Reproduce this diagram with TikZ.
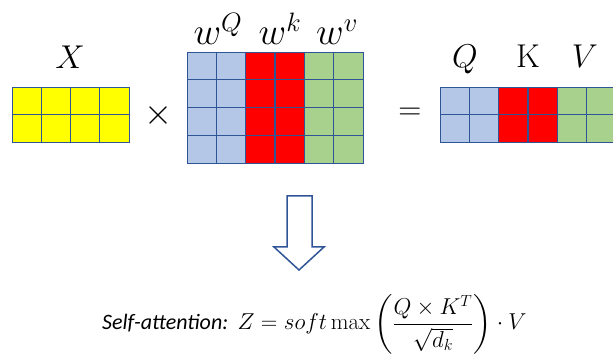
\RequirePackage{fix-cm}
\documentclass[tikz,border=0pt]{standalone}
\usepackage{fontspec}
\usepackage{amsmath}
\newfontfamily\carlito{Carlito}
\definecolor{gridblue}{HTML}{2F5597}
\definecolor{cellblue}{HTML}{B4C7E7}
\definecolor{cellgreen}{HTML}{A9D18E}
\definecolor{cellred}{HTML}{FF0000}
\definecolor{cellyellow}{HTML}{FFFF00}
\tikzset{
  gridline/.style={draw=gridblue, line width=1.4pt},
  bigmath/.style={inner sep=0pt, font=\fontsize{33}{38}\selectfont},
  wmath/.style={inner sep=0pt, font=\fontsize{38}{44}\selectfont},
  opsign/.style={inner sep=0pt, font=\fontsize{36}{40}\selectfont},
  blockarrow/.style={draw=gridblue, line width=1.5pt, line join=miter},
}
\begin{document}
\begin{tikzpicture}[x=1pt,y=-1pt]
\useasboundingbox (0,0) rectangle (613,355);
\clip (0,0) rectangle (613,355);
% X matrix
\fill[cellyellow] (12,87) rectangle (129,142);
\foreach \i in {1,2,3} \draw[gridline] ({12+\i*29.25},87) -- ({12+\i*29.25},142);
\draw[gridline] (12,114.5) -- (129,114.5);
\node[draw=gridblue, line width=1.4pt, minimum width=117pt, minimum height=55pt, inner sep=0pt, anchor=north west] (X) at (12,87) {};
\node[bigmath, anchor=base] (Xl) at (70,69) {$X$};
\node[opsign] (times) at (158,116) {$\times$};
% W matrix
\fill[cellblue] (187,52) rectangle (245.67,163);
\fill[cellred] (245.67,52) rectangle (304.33,163);
\fill[cellgreen] (304.33,52) rectangle (363,163);
\foreach \i in {1,...,5} \draw[gridline] ({187+\i*29.333},52) -- ({187+\i*29.333},163);
\foreach \j in {1,2,3} \draw[gridline] (187,{52+\j*27.75}) -- (363,{52+\j*27.75});
\node[draw=gridblue, line width=1.4pt, minimum width=176pt, minimum height=111pt, inner sep=0pt, anchor=north west] (W) at (187,52) {};
\node[wmath, anchor=base] (wq) at (218,45) {$w^{Q}$};
\node[wmath, anchor=base] (wk) at (280,45) {$w^{k}$};
\node[wmath, anchor=base] (wv) at (337,45) {$w^{v}$};
\node[opsign, font=\fontsize{32}{36}\selectfont] (eq) at (410,114) {$=$};
% Result matrix
\fill[cellblue] (440,87) rectangle (498.67,142);
\fill[cellred] (498.67,87) rectangle (557.33,142);
\fill[cellgreen] (557.33,87) rectangle (616,142);
\foreach \i in {1,...,5} \draw[gridline] ({440+\i*29.333},87) -- ({440+\i*29.333},142);
\draw[gridline] (440,114.5) -- (616,114.5);
\node[draw=gridblue, line width=1.4pt, minimum width=176pt, minimum height=55pt, inner sep=0pt, anchor=north west] (R) at (440,87) {};
\node[bigmath, anchor=base] (Ql) at (465,68) {$Q$};
\node[bigmath, anchor=base] (Kl) at (528,68) {$\mathrm{K}$};
\node[bigmath, anchor=base] (Vl) at (585,68) {$V$};
% block arrow
\draw[blockarrow] (287,196) -- (312,196) -- (312,247) -- (324,247) -- (299,270) -- (274,247) -- (287,247) -- cycle;
% formula
\node[inner sep=0pt, anchor=base west, font=\fontsize{23}{27}\selectfont] (formula) at (102,330)
  {{\carlito\itshape\fontsize{22}{26}\selectfont Self-attention:} $Z = soft\max\left(\dfrac{Q\times K^{T}}{\sqrt{d_k}}\right)\cdot V$};
\end{tikzpicture}
\end{document}
